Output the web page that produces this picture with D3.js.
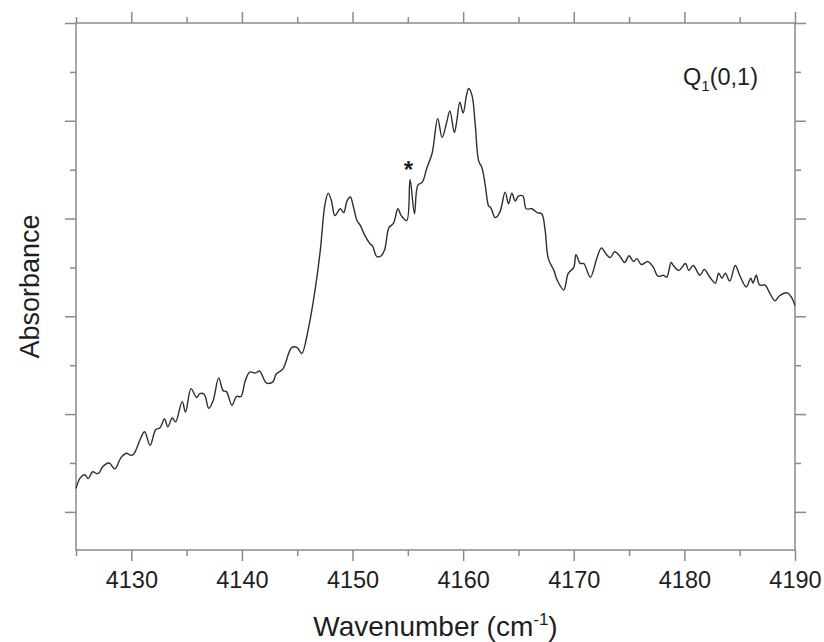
<!DOCTYPE html>
<html>
<head>
<meta charset="utf-8">
<script src="https://cdn.jsdelivr.net/npm/d3@7"></script>
<style>
  body { margin: 0; background: #fff; }
  text { font-family: 'Liberation Sans', Arial, sans-serif; }
</style>
</head>
<body>
<div id="chart"></div>
<script>
// data
const wavenumber = [
  4125.0, 4125.4, 4125.8, 4126.1, 4126.5, 4126.9, 4127.1, 4127.4, 4128.0, 4128.5,
  4129.1, 4129.6, 4129.9, 4130.2, 4130.8, 4131.2, 4131.7, 4132.2, 4132.6, 4133.0,
  4133.3, 4133.7, 4134.0, 4134.6, 4134.9, 4135.4, 4135.9, 4136.2, 4136.6, 4137.0,
  4137.4, 4137.9, 4138.3, 4138.6, 4139.1, 4139.5, 4139.9, 4140.3, 4140.7, 4141.2,
  4141.6, 4142.2, 4142.8, 4143.1, 4143.7, 4144.5, 4145.0, 4145.4, 4146.0, 4146.6,
  4147.1, 4147.5, 4147.8, 4148.1, 4148.4, 4148.9, 4149.2, 4149.5, 4149.8, 4150.1,
  4150.4, 4150.7, 4151.1, 4151.6, 4151.8, 4152.2, 4152.6, 4152.9, 4153.3, 4153.7,
  4154.1, 4154.4, 4154.9, 4155.2, 4155.6, 4155.9, 4156.3, 4156.7, 4157.2, 4157.7,
  4158.1, 4158.5, 4158.8, 4159.2, 4159.4, 4159.7, 4160.0, 4160.3, 4160.5, 4160.8,
  4161.1, 4161.4, 4161.7, 4162.0, 4162.3, 4162.5, 4162.9, 4163.3, 4163.8, 4164.1,
  4164.4, 4164.7, 4165.0, 4165.4, 4165.7, 4166.2, 4166.7, 4167.1, 4167.4, 4167.7,
  4168.2, 4168.5, 4169.1, 4169.5, 4170.0, 4170.2, 4170.6, 4170.9, 4171.5, 4172.1,
  4172.5, 4172.9, 4173.3, 4173.7, 4174.2, 4174.6, 4175.0, 4175.4, 4175.7, 4176.1,
  4176.7, 4177.2, 4177.6, 4178.1, 4178.4, 4178.8, 4179.0, 4179.5, 4180.1, 4180.4,
  4180.8, 4181.4, 4181.8, 4182.3, 4182.8, 4183.1, 4183.4, 4183.7, 4184.1, 4184.6,
  4185.0, 4185.6, 4186.0, 4186.2, 4186.5, 4186.8, 4187.3, 4187.7, 4188.2, 4188.6,
  4189.3, 4189.7, 4190.0
]

const absorbance = [
  0.024, 0.035, 0.038, 0.034, 0.041, 0.039, 0.040, 0.046, 0.050, 0.044,
  0.056, 0.060, 0.058, 0.059, 0.074, 0.082, 0.068, 0.084, 0.086, 0.095,
  0.087, 0.096, 0.092, 0.113, 0.102, 0.126, 0.117, 0.121, 0.120, 0.106,
  0.114, 0.137, 0.124, 0.123, 0.109, 0.118, 0.118, 0.134, 0.143, 0.142,
  0.144, 0.132, 0.133, 0.141, 0.146, 0.168, 0.168, 0.162, 0.187, 0.226,
  0.269, 0.314, 0.326, 0.318, 0.303, 0.310, 0.306, 0.318, 0.322, 0.311,
  0.298, 0.293, 0.283, 0.274, 0.272, 0.261, 0.262, 0.268, 0.291, 0.295,
  0.310, 0.303, 0.298, 0.340, 0.305, 0.334, 0.337, 0.351, 0.367, 0.402,
  0.383, 0.398, 0.410, 0.388, 0.398, 0.419, 0.408, 0.426, 0.433, 0.426,
  0.395, 0.359, 0.352, 0.334, 0.313, 0.311, 0.301, 0.306, 0.327, 0.315,
  0.326, 0.318, 0.323, 0.323, 0.310, 0.310, 0.306, 0.305, 0.289, 0.259,
  0.247, 0.237, 0.227, 0.244, 0.250, 0.263, 0.254, 0.254, 0.240, 0.260,
  0.270, 0.264, 0.260, 0.266, 0.261, 0.255, 0.262, 0.256, 0.259, 0.253,
  0.256, 0.250, 0.241, 0.242, 0.240, 0.255, 0.252, 0.247, 0.254, 0.247,
  0.252, 0.242, 0.248, 0.240, 0.234, 0.244, 0.239, 0.244, 0.236, 0.252,
  0.242, 0.230, 0.239, 0.234, 0.242, 0.232, 0.232, 0.224, 0.216, 0.221,
  0.224, 0.219, 0.211
]

const xMajorTicks = [4130, 4140, 4150, 4160, 4170, 4180, 4190]
const xMinorTicks = [4125, 4135, 4145, 4155, 4165, 4175, 4185]
const yMajorTicks = [0, 0.1, 0.2, 0.3, 0.4, 0.5]
const yMinorTicks = [0.05, 0.15, 0.25, 0.35, 0.45]

// impurity line marked with an asterisk
const markerPoint = { wavenumber: 4155.05, absorbance: 0.341 }

const spectrum = wavenumber.map((w, i) => ({ w, a: absorbance[i] }))

// size
const margin = { left: 76, right: 29, top: 23, bottom: 92 }
const width = 824 - margin.left - margin.right
const height = 642 - margin.top - margin.bottom

const axisColor = '#8a8a8a'
const textColor = '#1e1e1e'

// scale
const x = d3.scaleLinear().domain([4125, 4190]).range([0, width])
const y = d3.scaleLinear().domain([-0.039, 0.5]).range([height, 0])

const svg = d3
  .select('#chart')
  .append('svg')
  .attr('width', 824)
  .attr('height', 642)

const plot = svg
  .append('g')
  .attr('transform', `translate(${margin.left}, ${margin.top})`)

function styleAxis(g) {
  g.select('.domain').remove()
  g.selectAll('.tick line').attr('stroke', axisColor).attr('stroke-width', 1.5)
  g.selectAll('.tick text')
    .attr('fill', textColor)
    .attr('font-size', '23.5px')
    .attr('font-family', "'Liberation Sans', Arial, sans-serif")
}

// bottom axis
plot
  .append('g')
  .attr('transform', `translate(0, ${height})`)
  .call(d3.axisBottom(x).tickValues(xMajorTicks).tickSize(11).tickPadding(10).tickFormat(d3.format('d')))
  .call(styleAxis)
plot
  .append('g')
  .attr('transform', `translate(0, ${height})`)
  .call(d3.axisBottom(x).tickValues(xMinorTicks).tickSize(6).tickFormat(''))
  .call(styleAxis)

// top axis
plot
  .append('g')
  .call(d3.axisTop(x).tickValues(xMajorTicks).tickSize(11).tickFormat(''))
  .call(styleAxis)
plot
  .append('g')
  .call(d3.axisTop(x).tickValues(xMinorTicks).tickSize(6).tickFormat(''))
  .call(styleAxis)

// left axis
plot
  .append('g')
  .call(d3.axisLeft(y).tickValues(yMajorTicks).tickSize(11).tickFormat(''))
  .call(styleAxis)
plot
  .append('g')
  .call(d3.axisLeft(y).tickValues(yMinorTicks).tickSize(6).tickFormat(''))
  .call(styleAxis)

// right axis
plot
  .append('g')
  .attr('transform', `translate(${width}, 0)`)
  .call(d3.axisRight(y).tickValues(yMajorTicks).tickSize(11).tickFormat(''))
  .call(styleAxis)
plot
  .append('g')
  .attr('transform', `translate(${width}, 0)`)
  .call(d3.axisRight(y).tickValues(yMinorTicks).tickSize(6).tickFormat(''))
  .call(styleAxis)

// frame
plot
  .append('rect')
  .attr('x', 0)
  .attr('y', 0)
  .attr('width', width)
  .attr('height', height)
  .attr('fill', 'none')
  .attr('stroke', axisColor)
  .attr('stroke-width', 1.5)

// spectrum
const line = d3
  .line()
  .x(d => x(d.w))
  .y(d => y(d.a))
  .curve(d3.curveCatmullRom.alpha(0.5))

plot
  .append('path')
  .datum(spectrum)
  .attr('fill', 'none')
  .attr('stroke', '#2e2e2e')
  .attr('stroke-width', 1.4)
  .attr('stroke-linejoin', 'round')
  .attr('d', line)

// asterisk marker
plot
  .append('text')
  .attr('x', x(markerPoint.wavenumber))
  .attr('y', y(markerPoint.absorbance))
  .attr('text-anchor', 'middle')
  .attr('font-size', '24px')
  .attr('font-weight', 'bold')
  .attr('fill', textColor)
  .text('*')

// band label
const band = plot
  .append('text')
  .attr('x', width - 37)
  .attr('y', 62)
  .attr('text-anchor', 'end')
  .attr('font-size', '23.5px')
  .attr('fill', textColor)
band.append('tspan').text('Q')
band.append('tspan').attr('font-size', '15px').attr('dy', 6).text('1')
band.append('tspan').attr('dy', -6).text('(0,1)')

// x-axis label
const xLabel = svg
  .append('text')
  .attr('x', margin.left + width / 2)
  .attr('y', 636)
  .attr('text-anchor', 'middle')
  .attr('font-size', '28px')
  .attr('fill', textColor)
xLabel.append('tspan').text('Wavenumber (cm')
xLabel.append('tspan').attr('font-size', '17px').attr('dy', -11).text('-1')
xLabel.append('tspan').attr('dy', 11).text(')')

// y-axis label
svg
  .append('text')
  .attr('text-anchor', 'middle')
  .attr('font-size', '27px')
  .attr('fill', textColor)
  .attr('transform', `translate(39, ${margin.top + height / 2}) rotate(-90)`)
  .text('Absorbance')
</script>
</body>
</html>
